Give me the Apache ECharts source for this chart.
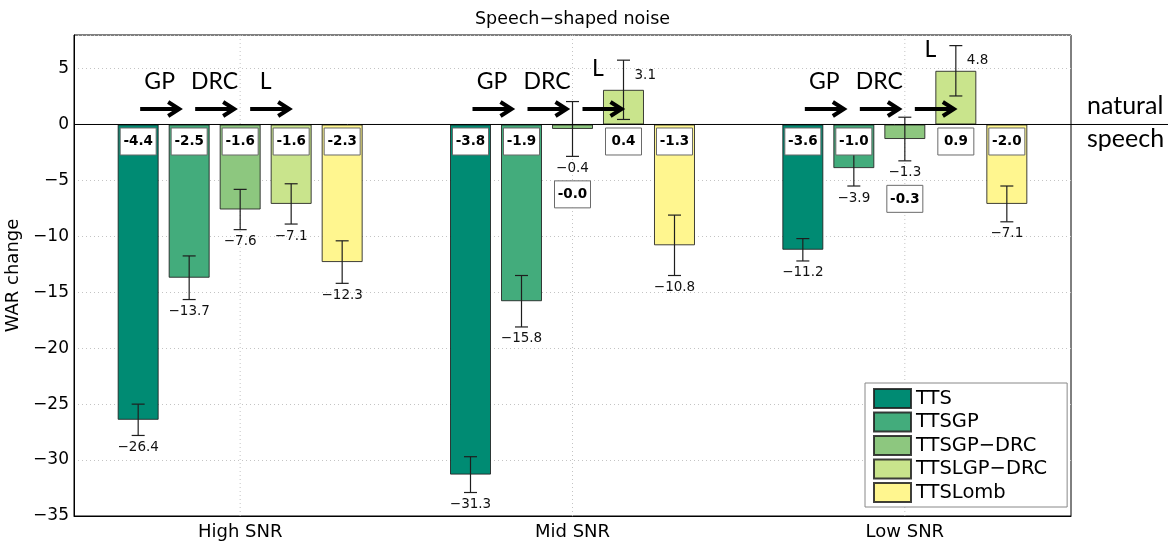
<!DOCTYPE html>
<html>
<head>
<meta charset="utf-8">
<title>Speech−shaped noise</title>
<script src="https://cdn.jsdelivr.net/npm/echarts@6/dist/echarts.min.js"></script>
<style>
  html, body { margin: 0; padding: 0; background: #fff; }
  #chart { width: 1168px; height: 541px; }
</style>
</head>
<body>
<div id="chart"></div>
<script>
// SNR conditions on the x axis
const categories = ['High SNR', 'Mid SNR', 'Low SNR'];
// system variants (one bar series each)
const seriesNames = ['TTS', 'TTSGP', 'TTSGP−DRC', 'TTSLGP−DRC', 'TTSLomb'];

// WAR change per condition
const ttsWar        = [-26.4, -31.3, -11.2];
const ttsgpWar      = [-13.7, -15.8, -3.9];
const ttsgpDrcWar   = [-7.6, -0.4, -1.3];
const ttslgpDrcWar  = [-7.1, 3.1, 4.8];
const ttslombWar    = [-12.3, -10.8, -7.1];

// half-length of the error bars
const ttsErr        = [1.4, 1.6, 1.0];
const ttsgpErr      = [1.95, 2.3, 1.6];
const ttsgpDrcErr   = [1.8, 2.45, 1.95];
const ttslgpDrcErr  = [1.8, 2.65, 2.25];
const ttslombErr    = [1.9, 2.7, 1.6];

// boxed figures printed on each bar
const ttsBoxed       = ['-4.4', '-3.8', '-3.6'];
const ttsgpBoxed     = ['-2.5', '-1.9', '-1.0'];
const ttsgpDrcBoxed  = ['-1.6', '-0.0', '-0.3'];
const ttslgpDrcBoxed = ['-1.6', '0.4', '0.9'];
const ttslombBoxed   = ['-2.3', '-1.3', '-2.0'];

// processing steps between consecutive variants
const stepLabels = ['GP', 'DRC', 'L'];

// y axis range and tick step
const yMin = -35, yMax = 8, yStep = 5;

const colors = ['#008b73', '#43ac7c', '#8dc77f', '#c9e48c', '#fff68f'];

const warSets = [ttsWar, ttsgpWar, ttsgpDrcWar, ttslgpDrcWar, ttslombWar];
const errSets = [ttsErr, ttsgpErr, ttsgpDrcErr, ttslgpDrcErr, ttslombErr];
const boxedSets = [ttsBoxed, ttsgpBoxed, ttsgpDrcBoxed, ttslgpDrcBoxed, ttslombBoxed];

const FONT = "'DejaVu Sans', 'Liberation Sans', sans-serif";
const NOTE_FONT = "Lato, 'Open Sans', sans-serif";
const BAR_W = 41, BAR_GAP = 10, PITCH = BAR_W + BAR_GAP;

const minus = v => (v < 0 ? '\u2212' : '') + Math.abs(v).toFixed(1);

// one record per bar for error bars, value labels and boxed figures
const errorRecords = [];
categories.forEach((c, i) => {
  warSets.forEach((vals, s) => {
    errorRecords.push({ cat: i, s: s, v: vals[i], e: errSets[s][i], boxed: boxedSets[s][i] });
  });
});

const chart = echarts.init(document.getElementById('chart'), null, { renderer: 'canvas' });

const barSeries = seriesNames.map((name, s) => ({
  name: name,
  type: 'bar',
  data: warSets[s],
  barWidth: BAR_W,
  barGap: (BAR_GAP / BAR_W * 100).toFixed(2) + '%',
  itemStyle: { color: colors[s], borderColor: 'rgba(30,30,30,0.85)', borderWidth: 1 },
  emphasis: { disabled: true },
  z: 2
}));

// dotted vertical grid lines at category centres
const vGridSeries = {
  type: 'custom',
  data: categories.map((c, i) => [i, 0]),
  encode: { x: 0, y: 1 },
  silent: true,
  z: 1,
  renderItem: (params, api) => {
    const cs = params.coordSys;
    const x = api.coord([api.value(0), 0])[0];
    return {
      type: 'line',
      shape: { x1: x, y1: cs.y, x2: x, y2: cs.y + cs.height },
      style: { stroke: '#c4c4c4', lineWidth: 1, lineDash: [1, 3] }
    };
  }
};

// error bars, value labels and boxed figures
const errorSeries = {
  type: 'custom',
  data: errorRecords.map(r => [r.cat, r.v]),
  encode: { x: 0, y: 1 },
  silent: true,
  clip: false,
  z: 3,
  renderItem: (params, api) => {
    const r = errorRecords[params.dataIndex];
    const base = api.coord([r.cat, 0]);
    const cx = base[0] + (r.s - 2) * PITCH;
    const zeroY = base[1];
    const yHi = api.coord([r.cat, r.v + r.e])[1];
    const yLo = api.coord([r.cat, r.v - r.e])[1];
    const yBar = api.coord([r.cat, r.v])[1];
    const stroke = { stroke: '#1e1e1e', lineWidth: 1.2 };
    const kids = [
      { type: 'line', shape: { x1: cx, y1: yHi, x2: cx, y2: yLo }, style: stroke },
      { type: 'line', shape: { x1: cx - 6.5, y1: yHi, x2: cx + 6.5, y2: yHi }, style: stroke },
      { type: 'line', shape: { x1: cx - 6.5, y1: yLo, x2: cx + 6.5, y2: yLo }, style: stroke }
    ];
    if (r.v >= 0) {
      kids.push({ type: 'text', style: { text: minus(r.v), x: cx + 11, y: yHi + 15,
        align: 'left', verticalAlign: 'middle', font: '13.5px ' + FONT, fill: '#111' } });
    } else {
      kids.push({ type: 'text', style: { text: minus(r.v), x: cx, y: yLo + 5,
        align: 'center', verticalAlign: 'top', font: '13.5px ' + FONT, fill: '#111' } });
    }
    const shortBar = r.v < 0 && (yBar - zeroY) < 32;
    const by = shortBar ? yLo + 38 : zeroY + 17;
    kids.push({ type: 'rect', shape: { x: cx - 18, y: by - 13.5, width: 36, height: 27 },
      style: { fill: '#fff', stroke: '#6a6a6a', lineWidth: 1 } });
    kids.push({ type: 'text', style: { text: r.boxed, x: cx, y: by + 0.5,
      align: 'center', verticalAlign: 'middle', font: 'bold 13.5px ' + FONT, fill: '#000' } });
    return { type: 'group', children: kids };
  }
};

// step arrows (GP, DRC, L) over each group
const stepSeries = {
  type: 'custom',
  data: categories.map((c, i) => [i, ttslgpDrcWar[i]]),
  encode: { x: 0, y: 1 },
  silent: true,
  clip: false,
  z: 5,
  renderItem: (params, api) => {
    const i = api.value(0);
    const lgp = api.value(1);
    const base = api.coord([i, 0]);
    const c0 = base[0] - 2 * PITCH;
    const zeroY = base[1];
    const ay = zeroY - 15.5;
    const kids = [];
    stepLabels.forEach((lab, k) => {
      const xs = c0 + 2 + 55 * k;
      const xe = xs + 39;
      kids.push({ type: 'line', shape: { x1: xs, y1: ay, x2: xe - 2, y2: ay },
        style: { stroke: '#000', lineWidth: 4 } });
      kids.push({ type: 'polyline', shape: { points: [[xe - 11, ay - 7], [xe, ay], [xe - 11, ay + 7]] },
        style: { stroke: '#000', lineWidth: 4, fill: null, lineJoin: 'miter' } });
      let ly = zeroY - 42.5;
      if (k === 2) ly = Math.min(ly, api.coord([i, Math.max(0, lgp)])[1] - 21);
      kids.push({ type: 'text', style: { text: lab, x: (xs + xe) / 2 - (k === 2 ? 4 : 0), y: ly,
        align: 'center', verticalAlign: 'middle', font: '23px ' + NOTE_FONT, fill: '#000' } });
    });
    return { type: 'group', children: kids };
  }
};

// zero reference line running out to the "natural speech" note, plus the title
const zeroSeries = {
  type: 'custom',
  data: [[0, 0]],
  encode: { x: 0, y: 1 },
  silent: true,
  clip: false,
  z: 4,
  renderItem: (params, api) => {
    const cs = params.coordSys;
    const zeroY = api.coord([0, 0])[1];
    return {
      type: 'group',
      children: [
        { type: 'line', shape: { x1: cs.x, y1: zeroY, x2: api.getWidth(), y2: zeroY },
          style: { stroke: '#000', lineWidth: 1 } },
        { type: 'text', style: { text: 'natural', x: cs.x + cs.width + 16, y: zeroY - 18.5,
          align: 'left', verticalAlign: 'middle', font: '25px ' + NOTE_FONT, fill: '#000' } },
        { type: 'text', style: { text: 'speech', x: cs.x + cs.width + 16, y: zeroY + 14.5,
          align: 'left', verticalAlign: 'middle', font: '25px ' + NOTE_FONT, fill: '#000' } },
        { type: 'text', style: { text: 'Speech\u2212shaped noise', x: cs.x + cs.width / 2, y: cs.y - 16,
          align: 'center', verticalAlign: 'middle', font: '17.5px ' + FONT, fill: '#000' } }
      ]
    };
  }
};

const option = {
  animation: false,
  backgroundColor: '#fff',
  grid: {
    left: 74, right: 97, top: 35, bottom: 25,
    show: true, borderColor: '#000', borderWidth: 1, backgroundColor: 'transparent',
    containLabel: false, outerBoundsMode: 'none'
  },
  legend: {
    data: seriesNames,
    orient: 'vertical',
    left: 865, top: 383,
    itemWidth: 37, itemHeight: 19, itemGap: 2.5,
    icon: 'rect',
    padding: [5, 20, 4, 8],
    backgroundColor: '#fff',
    borderColor: '#888', borderWidth: 1,
    selectedMode: false,
    textStyle: { fontFamily: FONT, fontSize: 19.5, lineHeight: 19, color: '#000' }
  },
  xAxis: {
    type: 'category',
    data: categories,
    axisLine: { onZero: false, lineStyle: { color: '#000', width: 1 } },
    axisTick: { show: false },
    axisLabel: { fontFamily: FONT, fontSize: 18, color: '#000', margin: 7 },
    splitLine: { show: false }
  },
  yAxis: {
    type: 'value',
    min: yMin, max: yMax, interval: yStep,
    name: 'WAR change',
    nameLocation: 'middle',
    nameRotate: 90,
    nameGap: 34,
    nameTextStyle: { fontFamily: FONT, fontSize: 18, color: '#000' },
    axisLine: { show: true, lineStyle: { color: '#000', width: 1 } },
    axisTick: { show: false },
    axisLabel: {
      fontFamily: FONT, fontSize: 17, color: '#000', margin: 5, showMaxLabel: false,
      formatter: v => (v > yMax - yStep && v % yStep !== 0) ? '' : (v < 0 ? '\u2212' + Math.abs(v) : String(v))
    },
    splitLine: { show: true, lineStyle: { color: '#c4c4c4', width: 1, type: [1, 3] } }
  },
  series: [vGridSeries].concat(barSeries, [errorSeries, zeroSeries, stepSeries])
};

chart.setOption(option);
</script>
</body>
</html>
